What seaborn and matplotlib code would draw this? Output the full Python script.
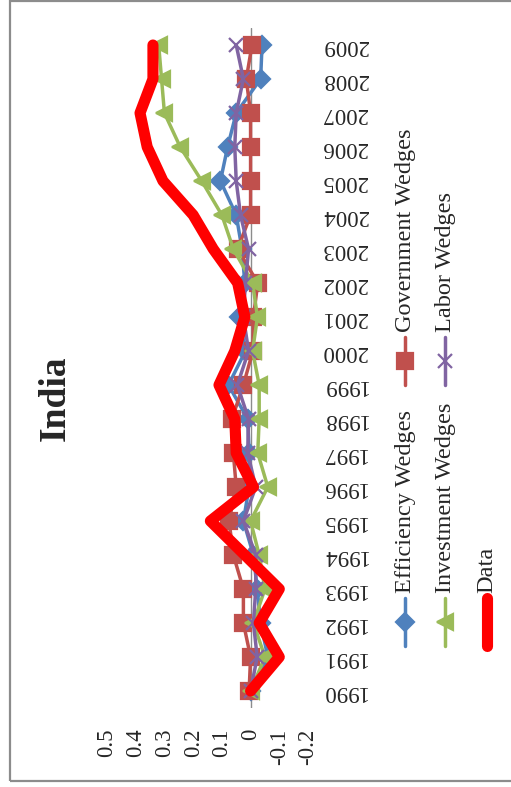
import matplotlib
matplotlib.use("Agg")
import numpy as np
import pandas as pd
import seaborn as sns
import matplotlib.pyplot as plt
from matplotlib.lines import Line2D
from matplotlib.patches import Rectangle

years = list(range(1990, 2010))
efficiency = [0.0, -0.06, -0.035, -0.023, -0.01, 0.025, 0.005, 0.005, 0.01, 0.077,
              0.018, 0.04, 0.02, 0.03, 0.05, 0.105, 0.08, 0.05, -0.035, -0.04]
government = [0.005, 0.0, 0.025, 0.025, 0.06, 0.075, 0.05, 0.06, 0.065, 0.025,
              -0.008, -0.01, -0.025, 0.045, 0.0, 0.0, 0.0, 0.0, 0.015, -0.005]
investment = [0.0, -0.05, -0.01, -0.05, -0.03, 0.0, -0.06, -0.025, -0.03, -0.03,
              -0.007, -0.024, -0.007, 0.06, 0.10, 0.17, 0.245, 0.30, 0.31, 0.32]
labor = [0.0, -0.023, -0.01, -0.018, -0.018, 0.025, -0.018, 0.01, 0.007, 0.046,
         0.007, 0.025, 0.018, 0.007, 0.035, 0.05, 0.055, 0.05, 0.025, 0.05]
data = [0.0, -0.10, -0.03, -0.10, 0.02, 0.14, -0.01, 0.05, 0.055, 0.11,
        0.055, 0.02, 0.045, 0.13, 0.20, 0.305, 0.36, 0.385, 0.34, 0.34]
value_ticks = [0.5, 0.4, 0.3, 0.2, 0.1, 0, -0.1, -0.2]
value_labels = ["0.5", "0.4", "0.3", "0.2", "0.1", "0", "-0.1", "-0.2"]

series_names = ["Efficiency Wedges", "Government Wedges", "Investment Wedges",
                "Labor Wedges", "Data"]
series_values = [efficiency, government, investment, labor, data]

df = pd.DataFrame({"year": years * len(series_names),
                   "value": sum(series_values, []),
                   "series": np.repeat(series_names, len(years))})

styles = {
    "Efficiency Wedges": dict(color="#4F81BD", marker="D", markersize=9.5, lw=2.5),
    "Government Wedges": dict(color="#C0504D", marker="s", markersize=11, lw=2.5),
    "Investment Wedges": dict(color="#9BBB59", marker="<", markersize=11, lw=2.5),
    "Labor Wedges": dict(color="#8064A2", marker="x", markersize=10, lw=2.5),
    "Data": dict(color="#FF0000", marker=None, markersize=0, lw=8),
}

sns.set_style("white")
plt.rcParams["font.family"] = ["Liberation Serif", "DejaVu Serif"]

W, H = 511, 787
fig = plt.figure(figsize=(W / 100, H / 100), dpi=100)


def fx(x):
    return x / W


def fy(y):
    return 1 - y / H


ax = fig.add_axes([fx(107), fy(708), fx(308) - fx(107), fy(28) - fy(708)])

for name in series_names:
    st = styles[name]
    sub = df[df["series"] == name]
    sns.lineplot(data=sub, x="value", y="year", orient="y", sort=False,
                 estimator=None, color=st["color"], marker=st["marker"],
                 markersize=st["markersize"], linewidth=st["lw"],
                 markeredgecolor=st["color"], markeredgewidth=1.6,
                 solid_capstyle="round", solid_joinstyle="round",
                 ax=ax, legend=False)

ax.axvline(0, color="#8C8C8C", lw=1.0, zorder=0)
ax.set_xlim(0.5, -0.2)
ax.set_ylim(1989.5, 2009.5)
ax.set_xticks(value_ticks)
ax.set_xticklabels(value_labels, rotation=90, fontsize=16.5)
ax.set_yticks(years)
ax.set_yticklabels([str(y) for y in years], rotation=180, fontsize=16.5)
ax.yaxis.tick_right()
ax.tick_params(axis="x", length=0, pad=15)
ax.tick_params(axis="y", length=0, pad=10)
for lab in ax.get_yticklabels():
    lab.set_va("center")
    lab.set_ha("left")
ax.set_xlabel("")
ax.set_ylabel("")
for sp in ax.spines.values():
    sp.set_visible(False)
ax.patch.set_alpha(0)

# title
fig.text(fx(55), fy(398), "India", rotation=90, ha="center", va="center",
         fontsize=27, fontweight="bold")

# rotated legend
legend_pos = {
    "Efficiency Wedges": (405, 622),
    "Government Wedges": (405, 361),
    "Investment Wedges": (445, 622),
    "Labor Wedges": (445, 361),
    "Data": (487, 622),
}
for name in series_names:
    st = styles[name]
    x, yc = legend_pos[name]
    fig.add_artist(Line2D([fx(x), fx(x)], [fy(yc + 24), fy(yc - 24)],
                          transform=fig.transFigure, color=st["color"],
                          lw=st["lw"], solid_capstyle="round"))
    if st["marker"]:
        fig.add_artist(Line2D([fx(x)], [fy(yc)], transform=fig.transFigure,
                              color=st["color"], marker=st["marker"],
                              markersize=st["markersize"],
                              markeredgecolor=st["color"], markeredgewidth=1.6))
    fig.text(fx(x), fy(yc - 29), name, rotation=90, ha="center", va="bottom",
             fontsize=17.5)

# outer chart border
fig.add_artist(Rectangle((fx(10), fy(781)), 1.2, fy(1) - fy(781),
                         transform=fig.transFigure, fill=False,
                         edgecolor="#8C8C8C", lw=1.6))

fig.savefig("out.png", dpi=100)
